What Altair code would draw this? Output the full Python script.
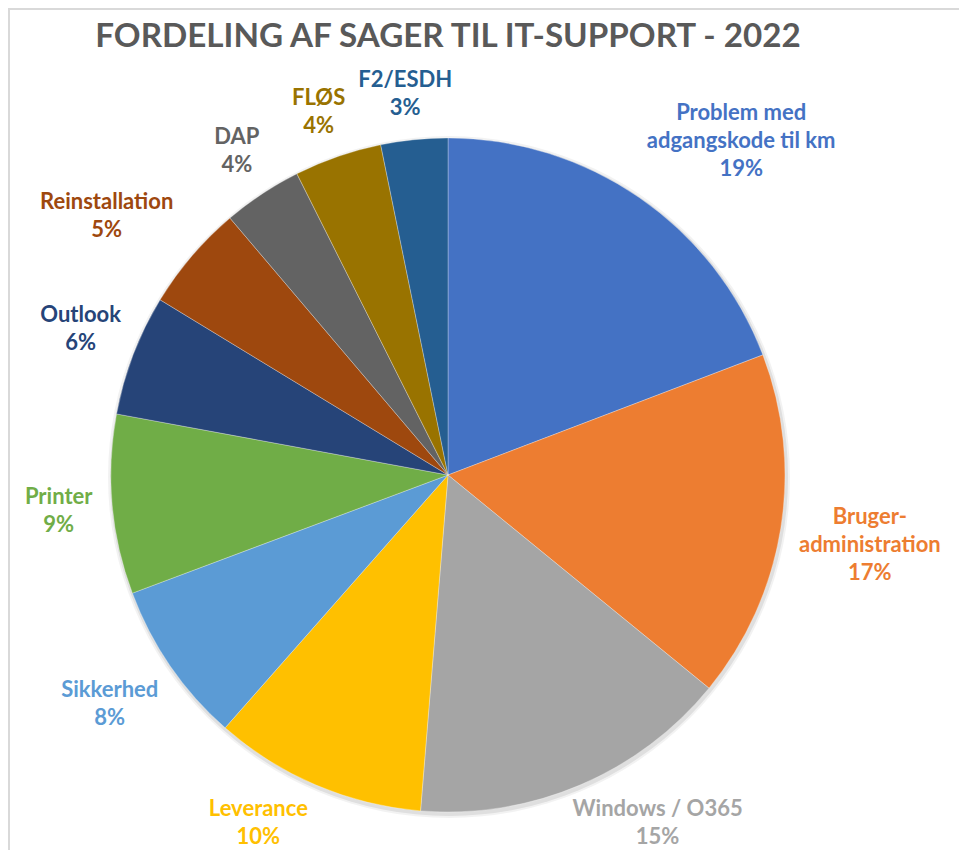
import math
import altair as alt
import pandas as pd

# ---- data ----
categories = [
    "Problem med\nadgangskode til km",
    "Bruger-\nadministration",
    "Windows / O365",
    "Leverance",
    "Sikkerhed",
    "Printer",
    "Outlook",
    "Reinstallation",
    "DAP",
    "FLØS",
    "F2/ESDH",
]
values = [19.2, 16.7, 15.4, 10.2, 7.8, 8.6, 5.8, 5.1, 3.8, 4.2, 3.2]
colors = [
    "#4472C4", "#ED7D31", "#A5A5A5", "#FFC000", "#5B9BD5", "#70AD47",
    "#264478", "#9E480E", "#636363", "#997300", "#255E91",
]
title_text = "FORDELING AF SAGER TIL IT-SUPPORT - 2022"

# ---- layout constants ----
W, H = 880, 730
PAD_TOP, PAD_BOTTOM, PAD_RIGHT = 100, 12, 71
R = 337                      # pie radius
CX = W / 2                   # pie centre (plot coords)
CY = 475 - 8 - PAD_TOP
RA = R + 18                  # radius of the label anchors
K = 2                        # how fast the label box swings round its anchor
FS = 22                      # label font size
CW = 10.2                    # approx. char width of label font
LH = 28                      # label line height
LOW = 823 - 8 - PAD_TOP      # lowest label centre (labels stay in chart area)

df = pd.DataFrame({
    "label": categories,
    "value": values,
    "idx": list(range(len(categories))),
    "nchar": [max(len(s) for s in c.split("\n") + ["00%"]) for c in categories],
    "nlines": [c.count("\n") + 2 for c in categories],
})

base = (
    alt.Chart(df)
    .transform_joinaggregate(total="sum(value)")
    .transform_window(cum="sum(value)", sort=[alt.SortField("idx")], frame=[None, 0])
    .transform_calculate(
        mid="2*PI*(datum.cum - datum.value/2)/datum.total",
        pct="format(datum.value/datum.total, '.0%')",
    )
    .transform_calculate(
        txt="datum.label + '\\n' + datum.pct",
        py=f"{CY} - {RA}*cos(datum.mid)",
        fx=f"clamp({K}*sin(datum.mid), -1, 1)",
        fy=f"clamp({K}*cos(datum.mid), -1, 1)",
        hw=f"datum.nchar*{CW}/2",
        hh=f"datum.nlines*{LH}/2",
    )
    .transform_calculate(lyc=f"min(datum.py - datum.fy*datum.hh, {LOW})")
    .transform_calculate(py2="datum.lyc + datum.fy*datum.hh")
    .transform_calculate(
        lx=f"{CX} + (sin(datum.mid) < 0 ? -1 : 1)*sqrt(max(0, {RA}*{RA} - (datum.py2-{CY})*(datum.py2-{CY}))) + datum.fx*datum.hw",
        ly=f"datum.lyc - (datum.nlines - 1)*{LH}/2",
    )
)

color_scale = alt.Scale(domain=categories, range=colors)

one = pd.DataFrame({"k": [0]})
shadow_outer = alt.Chart(one).mark_arc(
    radius=R + 4, theta=0, theta2=2 * math.pi, color="#000000", opacity=0.05
).encode(x=alt.value(CX + 1), y=alt.value(CY + 2))
shadow_inner = alt.Chart(one).mark_arc(
    radius=R + 2, theta=0, theta2=2 * math.pi, color="#000000", opacity=0.08
).encode(x=alt.value(CX + 1), y=alt.value(CY + 2))

pie = base.mark_arc(radius=R, stroke="white", strokeWidth=0.3).encode(
    theta=alt.Theta("value:Q", stack=True),
    color=alt.Color("label:N", scale=color_scale, legend=None),
    order=alt.Order("idx:Q"),
    y=alt.value(CY),
)

labels = base.mark_text(
    font="Lato", fontSize=FS, fontWeight="bold", lineBreak="\n", lineHeight=LH,
    align="center", baseline="middle",
).encode(
    x=alt.X("lx:Q", scale=None),
    y=alt.Y("ly:Q", scale=None),
    text="txt:N",
    color=alt.Color("label:N", scale=color_scale, legend=None),
)

top_line = alt.Chart(one).mark_rule(color="#d9d9d9", strokeWidth=2).encode(
    x=alt.value(0), x2=alt.value(W + PAD_RIGHT), y=alt.value(-PAD_TOP + 1)
)
left_line = alt.Chart(one).mark_rule(color="#d9d9d9", strokeWidth=2).encode(
    x=alt.value(1), y=alt.value(-PAD_TOP), y2=alt.value(H + PAD_BOTTOM)
)
title = alt.Chart(pd.DataFrame({"t": [title_text]})).mark_text(
    font="Lato", fontSize=33.2, fontWeight="bold", color="#595959",
    align="center", baseline="alphabetic",
).encode(text="t:N", x=alt.value(CX), y=alt.value(47 - 8 - PAD_TOP))

chart = (
    alt.layer(shadow_outer, shadow_inner, pie, labels, top_line, left_line, title)
    .properties(
        width=W,
        height=H,
        padding={"left": 0, "top": PAD_TOP, "right": PAD_RIGHT, "bottom": PAD_BOTTOM},
        autosize="none",
    )
    .configure_view(stroke=None)
)

chart.save("out.html", embed_options={"renderer": "svg", "actions": False})
